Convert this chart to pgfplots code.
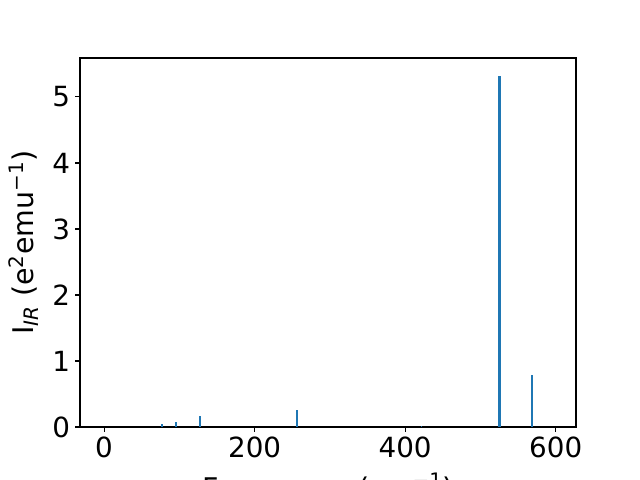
\documentclass[border=0pt]{standalone}
\usepackage{pgfplots}
\pgfplotsset{compat=1.18}
\usepackage{fontspec}
\setmainfont{DejaVu Sans}
\definecolor{mblue}{HTML}{1F77B4}
\begin{document}
\fontsize{20}{24}\selectfont
\begin{tikzpicture}
\path[use as bounding box] (0,0) rectangle (460.8pt,345.6pt);
\begin{axis}[
  at={(57.6pt,38.16pt)}, anchor=south west,
  scale only axis, width=357.12pt, height=265.68pt,
  xmin=-32, xmax=627, ymin=0, ymax=5.59,
  xtick={0,200,400,600}, ytick={0,1,2,3,4,5},
  xtick pos=bottom, ytick pos=left,
  tick align=outside, major tick length=3.5pt,
  tick style={black, line width=0.8pt},
  axis line style={line width=0.8pt},
  /pgf/number format/assume math mode=true,
  tick label style={font=\fontsize{20}{24}\selectfont, inner sep=0pt},
  xticklabel style={yshift=-3.5pt},
  yticklabel style={xshift=-3.5pt},
  label style={font=\fontsize{20.5}{24}\selectfont, inner sep=0pt},
  xlabel={Frequency (cm\textsuperscript{−1})},
  xlabel style={at={(axis description cs:0.5,-0.125)}, anchor=north},
  ylabel={I\textsubscript{\itshape IR} (e\textsuperscript{2}emu\textsuperscript{−1})},
  ylabel style={at={(axis description cs:-0.083,0.5)}, anchor=south, rotate=0},
]
\addplot[ycomb, mblue, line width=1.4pt] coordinates {(76.7,0.05) (96,0.08) (128,0.17) (256.5,0.25) (421.7,0.02)};
\addplot[ycomb, mblue, line width=2.2pt] coordinates {(525,5.32)};
\addplot[ycomb, mblue, line width=1.0pt] coordinates {(568.4,0.79)};
\end{axis}
\end{tikzpicture}
\end{document}
